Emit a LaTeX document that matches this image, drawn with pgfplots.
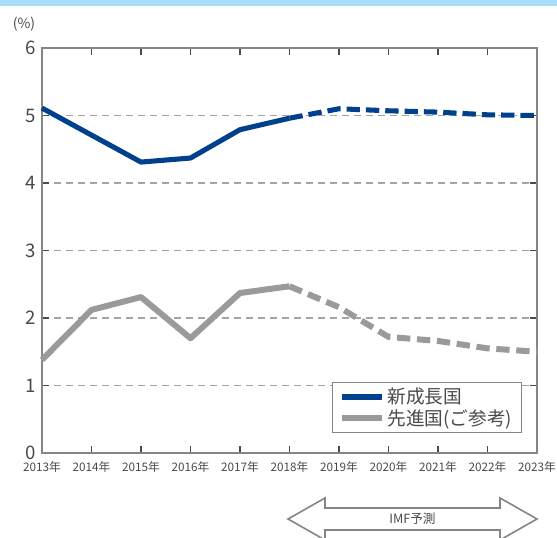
\documentclass[border=0pt]{standalone}
\usepackage{pgfplots}
\pgfplotsset{compat=1.18}
\usepackage{fontspec}
\setmainfont{Noto Sans CJK JP}
\definecolor{navyline}{HTML}{00408C}
\definecolor{grayline}{HTML}{9A9A9A}
\definecolor{axgray}{HTML}{858585}
\definecolor{txt}{HTML}{4A4A4A}
\definecolor{band}{HTML}{A6DDF7}
\begin{document}
\begin{tikzpicture}[x=0.75pt,y=-0.75pt]
\path[use as bounding box] (0,0) rectangle (557,538);
\fill[band] (0,0) rectangle (557,6);
\node[text=txt,font=\fontsize{10.5}{12}\selectfont] at (24,24) {(\%)};
\begin{axis}[
  at={(42pt*0.75,-453pt*0.75)}, anchor=south west,
  scale only axis, width=371.25pt, height=303.75pt,
  xmin=2013, xmax=2023, ymin=0, ymax=6,
  xtick={2013,...,2023},
  xticklabels={2013年,2014年,2015年,2016年,2017年,2018年,2019年,2020年,2021年,2022年,2023年},
  ytick={0,...,6},
  /pgf/number format/assume math mode=true,
  tick align=inside, major tick length=5.5pt,
  tick style={color=txt, line width=1pt},
  axis line style={color=axgray, line width=1.6pt},
  xticklabel style={font=\fontsize{8.8}{10}\selectfont, text=txt, yshift=-3pt},
  yticklabel style={font=\fontsize{14}{16}\selectfont, text=txt, xshift=-1pt},
  ymajorgrids, grid style={color=grayline!90, dash pattern=on 5pt off 4pt, line width=0.8pt},
  clip=false,
  legend style={at={(0.970,0.049)}, anchor=south east, draw=axgray, line width=1pt,
    font=\fontsize{14}{15}\selectfont, text=txt, row sep=-1pt, inner xsep=5pt, inner ysep=2pt},
  legend cell align=left,
  legend image code/.code={\draw[#1, line width=4.5pt] (0pt,0pt) -- (30pt,0pt);},
]
\addplot[navyline, line width=3.8pt, line join=round] coordinates {
(2013,5.11) (2014,4.71) (2015,4.31) (2016,4.37) (2017,4.79) (2018,4.96)};
\addlegendentry{新成長国}
\addplot[grayline, line width=4.5pt, line join=round] coordinates {
(2013,1.38) (2014,2.12) (2015,2.31) (2016,1.70) (2017,2.37) (2018,2.47)};
\addlegendentry{先進国(ご参考)}
\addplot[navyline, line width=3.8pt, dash pattern=on 10pt off 4.5pt, forget plot] coordinates {
(2018,4.96) (2019,5.10) (2020,5.07) (2021,5.05) (2022,5.01) (2023,5.00)};
\addplot[grayline, line width=4.5pt, dash pattern=on 10pt off 5pt, forget plot] coordinates {
(2018,2.47) (2019,2.16) (2020,1.72) (2021,1.66) (2022,1.55) (2023,1.50)};
\end{axis}
\draw[axgray, line width=1.2pt, fill=white, line join=miter]
  (288,519) -- (325,498) -- (325,508) -- (500,508) -- (500,498) -- (537,519)
  -- (500,540) -- (500,530) -- (325,530) -- (325,540) -- cycle;
\node[text=txt, font=\fontsize{9.5}{11}\selectfont] at (412.5,519) {IMF予測};
\end{tikzpicture}
\end{document}
